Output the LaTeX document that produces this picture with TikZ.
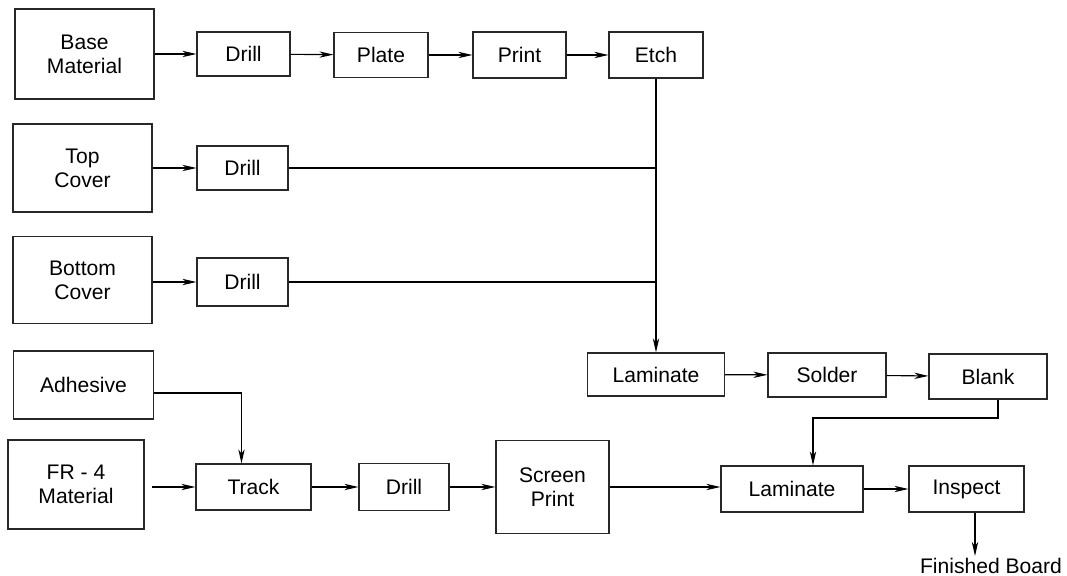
\documentclass[tikz,border=0pt]{standalone}
\usepackage{fontspec}
\setmainfont{Liberation Sans}
\usetikzlibrary{arrows.meta,positioning}
\definecolor{edge}{RGB}{40,40,40}

\begin{document}
\begin{tikzpicture}[x=0.025cm,y=-0.025cm,line width=0.8pt,
  >={Stealth[length=10pt,width=4.5pt,inset=3pt]},
  every node/.style={font=\fontsize{15}{17}\selectfont},
  box/.style={draw=edge,align=center,inner sep=0pt}]
\useasboundingbox (0,0) rectangle (1067,576);
% top row
\node[box,minimum width=3.475cm,minimum height=2.25cm] (base) at (84.5,54) {Base\\Material};
\node[box,minimum width=2.325cm,minimum height=1.1cm] (drilla) at (243.5,54) {Drill};
\node[box,minimum width=2.35cm,minimum height=1.125cm] (plate) at (381,55) {Plate};
\node[box,minimum width=2.325cm,minimum height=1.15cm] (print) at (519.5,55) {Print};
\node[box,minimum width=2.35cm,minimum height=1.15cm] (etch) at (656,55) {Etch};
% covers
\node[box,minimum width=3.475cm,minimum height=2.2cm] (top) at (82.5,168) {Top\\Cover};
\node[box,minimum width=2.275cm,minimum height=1.1cm] (drillb) at (242.5,168) {Drill};
\node[box,minimum width=3.475cm,minimum height=2.175cm] (bottom) at (82.5,280) {Bottom\\Cover};
\node[box,minimum width=2.275cm,minimum height=1.2cm] (drillc) at (242.5,282) {Drill};
% middle row
\node[box,minimum width=3.425cm,minimum height=1.075cm] (lama) at (656,374.5) {Laminate};
\node[box,minimum width=2.95cm,minimum height=1.1cm] (solder) at (827,375) {Solder};
\node[box,minimum width=2.95cm,minimum height=1.125cm] (blank) at (988,376.5) {Blank};
% bottom row
\node[box,minimum width=3.5cm,minimum height=1.7cm] (adhesive) at (83.5,385) {Adhesive};
\node[box,minimum width=3.4cm,minimum height=2.225cm] (fr4) at (76,484.5) {FR - 4\\Material};
\node[box,minimum width=2.875cm,minimum height=1.15cm] (track) at (253.5,487) {Track};
\node[box,minimum width=2.25cm,minimum height=1.175cm] (drilld) at (404,487) {Drill};
\node[box,minimum width=2.825cm,minimum height=2.325cm] (screen) at (552.5,487) {Screen\\Print};
\node[box,minimum width=3.55cm,minimum height=1.15cm] (lamb) at (792,489) {Laminate};
\node[box,minimum width=2.875cm,minimum height=1.15cm] (inspect) at (966.5,489) {Inspect};
\node[inner sep=0pt] (fin) at (991,566) {Finished Board};

\coordinate (fr4in) at (152,487);
\coordinate (bend) at (813,418);
\coordinate (fbtop) at (975,556);

\draw[->] (base) -- (drilla);
\draw[->] (drilla) -- (plate);
\draw[->] (plate) -- (print);
\draw[->] (print) -- (etch);
\draw[->] (top) -- (drillb);
\draw[->] (bottom.east |- drillc) -- (drillc);
\draw (drillb.east) -- (drillb.east -| etch.south);
\draw (drillc.east) -- (drillc.east -| etch.south);
\draw[->] (etch) -- (lama);
\draw[->] (lama) -- (solder);
\draw[->] (solder) -- (blank);
\draw[->] ([yshift=-0.2cm]adhesive.east) -| ([xshift=-0.3cm]track.north);
\draw[->] (fr4in) -- (track.west);
\draw[->] (track) -- (drilld);
\draw[->] (drilld) -- (screen);
\draw[->] (screen.east) -- (screen.east -| lamb.west);
\draw[->] ([xshift=0.25cm]blank.south) |- (bend) -- (bend |- lamb.north);
\draw[->] (lamb) -- (inspect);
\draw[->] (inspect.south -| fbtop) -- (fbtop);
\end{tikzpicture}
\end{document}
